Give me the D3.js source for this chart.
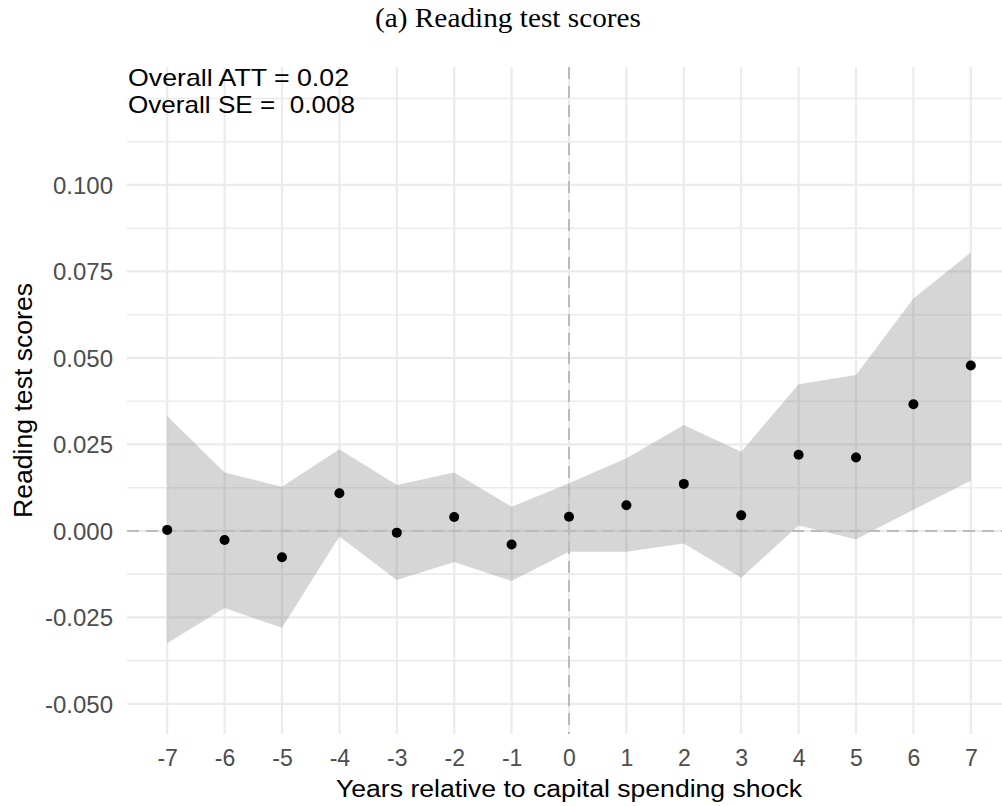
<!DOCTYPE html>
<html><head><meta charset="utf-8">
<script src="https://cdn.jsdelivr.net/npm/d3@7"></script>
<style>body{margin:0;background:#fff}svg{display:block}</style>
</head><body>
<script>
// Data
const years = [-7,-6,-5,-4,-3,-2,-1,0,1,2,3,4,5,6,7];
const att   = [0.0003,-0.0026,-0.0076,0.0109,-0.0005,0.0040,-0.0039,0.0041,0.0074,0.0136,0.0045,0.0220,0.0212,0.0366,0.0478];
const upper = [0.0332,0.0169,0.0128,0.0236,0.0133,0.0169,0.0070,0.0138,0.0210,0.0306,0.0229,0.0424,0.0451,0.0672,0.0805];
const lower = [-0.0325,-0.0223,-0.0280,-0.0016,-0.0142,-0.0090,-0.0145,-0.0060,-0.0060,-0.0036,-0.0135,0.0016,-0.0024,0.0061,0.0145];
const yTicks = [-0.050,-0.025,0.000,0.025,0.050,0.075,0.100];
const yMinor = [-0.0375,-0.0125,0.0125,0.0375,0.0625,0.0875,0.1125,0.125];
const xTicks = years;
const titleText = "(a) Reading test scores";
const annot = ["Overall ATT = 0.02", "Overall SE =  0.008"];
const xLabel = "Years relative to capital spending shock";
const yLabel = "Reading test scores";

const W = 1002, H = 806;
const panel = {left:127, right:1011, top:67, bottom:734};
const svg = d3.select("body").append("svg").attr("width",W).attr("height",H);

const x = d3.scaleLinear().domain([-7.7,7.7]).range([panel.left,panel.right]);
const y = d3.scaleLinear().domain([-0.0587,0.1341]).range([panel.bottom,panel.top]);

svg.append("clipPath").attr("id","pc").append("rect")
  .attr("x",panel.left).attr("y",panel.top).attr("width",panel.right-panel.left).attr("height",panel.bottom-panel.top);
const g = svg.append("g").attr("clip-path","url(#pc)");

// grid
g.selectAll(".ymin").data(yMinor).join("line")
  .attr("x1",panel.left).attr("x2",panel.right)
  .attr("y1",d=>y(d)).attr("y2",d=>y(d))
  .attr("stroke","#EBEBEB").attr("stroke-width",1.6);
g.selectAll(".ymaj").data(yTicks).join("line")
  .attr("x1",panel.left).attr("x2",panel.right)
  .attr("y1",d=>y(d)).attr("y2",d=>y(d))
  .attr("stroke","#EBEBEB").attr("stroke-width",2.2);
g.selectAll(".xmaj").data(xTicks).join("line")
  .attr("y1",panel.top).attr("y2",panel.bottom)
  .attr("x1",d=>x(d)).attr("x2",d=>x(d))
  .attr("stroke","#EBEBEB").attr("stroke-width",2.2);

// ribbon
const rows = years.map((yr,i)=>({yr, est:att[i], lo:lower[i], hi:upper[i]}));
const area = d3.area().x(d=>x(d.yr)).y0(d=>y(d.lo)).y1(d=>y(d.hi));
g.append("path").datum(rows).attr("d",area).attr("fill","#777777").attr("fill-opacity",0.3);

// reference lines
g.append("line").attr("x1",panel.left).attr("x2",panel.right).attr("y1",y(0)).attr("y2",y(0))
  .attr("stroke","#BBBBBB").attr("stroke-width",2).attr("stroke-dasharray","12,7");
g.append("line").attr("x1",x(0)).attr("x2",x(0)).attr("y1",panel.top).attr("y2",panel.bottom)
  .attr("stroke","#BBBBBB").attr("stroke-width",2).attr("stroke-dasharray","12,7");

// points
g.selectAll("circle").data(rows).join("circle")
  .attr("cx",d=>x(d.yr)).attr("cy",d=>y(d.est)).attr("r",5).attr("fill","#000");

// axes
const font = "Liberation Sans, Arial, sans-serif";
const hy = s => s.replace("\u2212","-");
const yAxis = svg.append("g").attr("transform",`translate(${panel.left-14},0)`)
  .call(d3.axisLeft(y).tickValues(yTicks).tickFormat(d=>hy(d3.format(".3f")(d))).tickSize(0).tickPadding(0));
yAxis.select(".domain").remove();
yAxis.selectAll("text").attr("font-family",font).attr("font-size",24).attr("fill","#4D4D4D").attr("dy","0.35em");

const xAxis = svg.append("g").attr("transform",`translate(0,${panel.bottom})`)
  .call(d3.axisBottom(x).tickValues(xTicks).tickFormat(d=>hy(d3.format("d")(d))).tickSize(0).tickPadding(0));
xAxis.select(".domain").remove();
xAxis.selectAll("text").attr("font-family",font).attr("font-size",23).attr("fill","#4D4D4D").attr("y",32).attr("dy",0);

function fit(sel, w){ sel.attr("textLength", w).attr("lengthAdjust","spacingAndGlyphs"); }

const xt = svg.append("text").attr("x",569).attr("y",797).attr("text-anchor","middle")
  .attr("font-family",font).attr("font-size",23).attr("fill","#000").text(xLabel);
fit(xt, 466);
const yt = svg.append("text").attr("transform",`translate(32,${(panel.top+panel.bottom)/2}) rotate(-90)`)
  .attr("text-anchor","middle").attr("font-family",font).attr("font-size",25).attr("fill","#000").text(yLabel);
fit(yt, 235);

const tt = svg.append("text").attr("x",508).attr("y",27).attr("text-anchor","middle")
  .attr("font-family","Liberation Serif, Times New Roman, serif").attr("font-size",27).attr("fill","#000").text(titleText);
fit(tt, 266);

const annW = [221, 227];
svg.selectAll(".annot").data(annot).join("text")
  .attr("x",128).attr("y",(d,i)=>86+i*27).attr("xml:space","preserve").style("white-space","pre")
  .attr("font-family",font).attr("font-size",24).attr("fill","#000").text(d=>d)
  .attr("textLength",(d,i)=>annW[i]).attr("lengthAdjust","spacingAndGlyphs");
</script>
</body></html>
